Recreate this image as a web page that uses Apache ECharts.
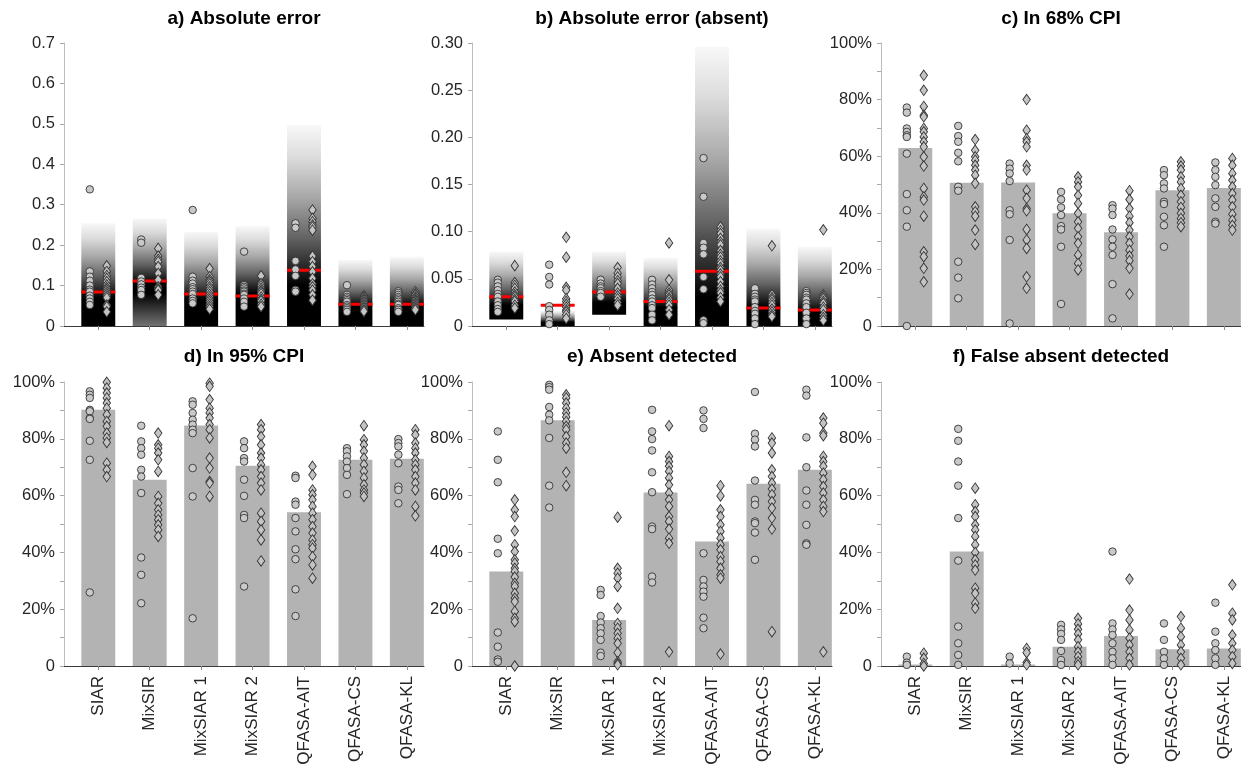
<!DOCTYPE html>
<html>
<head>
<meta charset="utf-8">
<script src="https://cdn.jsdelivr.net/npm/echarts@6/dist/echarts.min.js"></script>
<style>
  html, body { margin: 0; padding: 0; background: #fff; }
  #chart { width: 1241px; height: 771px; }
</style>
</head>
<body>
<div id="chart"></div>
<script>
// ---------------- DATA ----------------
const categories = ['SIAR', 'MixSIR', 'MixSIAR 1', 'MixSIAR 2', 'QFASA-AIT', 'QFASA-CS', 'QFASA-KL'];
const panelTitles = ['a) Absolute error', 'b) Absolute error (absent)', 'c) In 68% CPI',
                     'd) In 95% CPI', 'e) Absent detected', 'f) False absent detected'];

// panel a : absolute error
const aMedian = [0.084, 0.111, 0.079, 0.074, 0.138, 0.054, 0.054];
const aBandLo = [0, 0, 0, 0, 0, 0, 0];
const aBandHi = [0.254, 0.266, 0.233, 0.247, 0.497, 0.163, 0.171];
const aDarkLo = [0, 0.08, 0, 0, 0, 0, 0];
const aDarkHi = [0.07, 0.105, 0.065, 0.08, 0.10, 0.05, 0.05];
const aLowShade = [0, 115, 0, 0, 0, 0, 0];
const aCircles = [
  [0.338, 0.135, 0.122, 0.112, 0.100, 0.090, 0.085, 0.075, 0.068, 0.060, 0.052],
  [0.214, 0.206, 0.119, 0.110, 0.103, 0.095, 0.089, 0.077],
  [0.287, 0.122, 0.112, 0.105, 0.096, 0.091, 0.085, 0.079, 0.068, 0.062, 0.056],
  [0.184, 0.101, 0.097, 0.093, 0.088, 0.085, 0.080, 0.077, 0.068, 0.060, 0.048],
  [0.254, 0.243, 0.161, 0.140, 0.124, 0.089, 0.085],
  [0.101, 0.077, 0.072, 0.068, 0.064, 0.060, 0.052, 0.048, 0.044, 0.040, 0.035],
  [0.086, 0.082, 0.077, 0.072, 0.068, 0.064, 0.060, 0.055, 0.052, 0.044, 0.040, 0.035]
];
const aDiamonds = [
  [0.149, 0.135, 0.125, 0.118, 0.110, 0.102, 0.095, 0.090, 0.085, 0.080, 0.075, 0.070, 0.052, 0.048, 0.035],
  [0.192, 0.173, 0.165, 0.159, 0.147, 0.130, 0.114, 0.097, 0.092, 0.089, 0.077],
  [0.142, 0.122, 0.115, 0.110, 0.104, 0.097, 0.091, 0.085, 0.078, 0.072, 0.066, 0.060, 0.054, 0.048, 0.042],
  [0.124, 0.105, 0.099, 0.093, 0.088, 0.085, 0.080, 0.072, 0.066, 0.062, 0.054, 0.048],
  [0.287, 0.266, 0.258, 0.250, 0.245, 0.237, 0.173, 0.159, 0.147, 0.134, 0.118, 0.104, 0.097, 0.089, 0.077, 0.064],
  [0.075, 0.072, 0.068, 0.064, 0.060, 0.056, 0.052, 0.048, 0.044, 0.040, 0.036],
  [0.085, 0.080, 0.077, 0.072, 0.068, 0.064, 0.060, 0.056, 0.052, 0.048, 0.044, 0.040]
];

// panel b : absolute error (absent)
const bMedian = [0.031, 0.022, 0.036, 0.026, 0.058, 0.019, 0.017];
const bBandLo = [0.007, 0, 0.012, 0, 0, 0, 0];
const bBandHi = [0.079, 0.016, 0.079, 0.072, 0.296, 0.103, 0.084];
const bDarkLo = [0, 0, 0, 0, 0, 0, 0];
const bDarkHi = [0.022, 0.004, 0.025, 0.02, 0.03, 0.02, 0.015];
const bLowShade = [0, 0, 0, 0, 0, 0, 0];
const bCircles = [
  [0.049, 0.046, 0.042, 0.038, 0.034, 0.031, 0.026, 0.022, 0.018, 0.015],
  [0.065, 0.052, 0.044, 0.021, 0.017, 0.012, 0.006, 0.002],
  [0.049, 0.045, 0.042, 0.040, 0.037, 0.035, 0.031],
  [0.049, 0.044, 0.040, 0.036, 0.033, 0.029, 0.026, 0.022, 0.019, 0.012, 0.006],
  [0.178, 0.137, 0.088, 0.083, 0.076, 0.052, 0.039, 0.006, 0.003],
  [0.040, 0.034, 0.031, 0.028, 0.026, 0.020, 0.016, 0.013, 0.008, 0.002],
  [0.037, 0.035, 0.033, 0.030, 0.028, 0.024, 0.020, 0.014, 0.008, 0.002]
];
const bDiamonds = [
  [0.064, 0.046, 0.043, 0.040, 0.036, 0.033, 0.031, 0.028, 0.026, 0.022, 0.019],
  [0.094, 0.073, 0.041, 0.038, 0.029, 0.026, 0.023, 0.020, 0.017, 0.015, 0.012, 0.008],
  [0.062, 0.056, 0.052, 0.048, 0.045, 0.040, 0.035, 0.032, 0.029, 0.025, 0.022],
  [0.088, 0.049, 0.038, 0.035, 0.033, 0.030, 0.028, 0.025, 0.022, 0.017, 0.012],
  [0.105, 0.101, 0.098, 0.093, 0.089, 0.086, 0.080, 0.076, 0.073, 0.069, 0.066, 0.062, 0.059, 0.055, 0.052, 0.047, 0.042, 0.038, 0.035, 0.030, 0.026],
  [0.085, 0.033, 0.030, 0.028, 0.025, 0.022, 0.018, 0.015, 0.012, 0.010],
  [0.102, 0.033, 0.031, 0.029, 0.026, 0.024, 0.020, 0.017, 0.012, 0.009, 0.006]
];

// panel c : in 68% CPI (%)
const cBars = [62.9, 50.6, 50.7, 39.8, 33.1, 48.0, 48.8];
const cCircles = [
  [77.2, 75.4, 69.8, 68.6, 67.4, 66.8, 60.9, 46.6, 40.9, 35.1, 0],
  [70.7, 67.1, 65.1, 61.2, 58.2, 49.2, 47.8, 22.7, 17.1, 9.8],
  [57.4, 55.6, 53.9, 51.2, 40.9, 39.5, 30.4, 0.9],
  [47.4, 44.7, 41.9, 39.2, 35.3, 34.1, 28.0, 7.8],
  [42.7, 41.5, 39.2, 34.1, 30.6, 28.0, 25.1, 14.8, 2.7],
  [55.1, 53.3, 50.4, 48.6, 43.9, 43.1, 38.6, 35.6, 28.0],
  [57.8, 55.1, 52.7, 49.8, 45.1, 42.1, 36.8, 36.2]
];
const cDiamonds = [
  [88.6, 83.3, 77.6, 74.5, 73.9, 69.8, 68.6, 66.8, 65.1, 63.3, 59.8, 56.5, 48.6, 45.6, 44.5, 38.8, 26.2, 24.5, 20.4, 15.6],
  [65.9, 62.1, 59.8, 58.6, 56.8, 55.1, 53.3, 50.4, 42.1, 40.4, 38.8, 33.9, 28.8],
  [80.0, 69.2, 66.2, 65.1, 63.3, 56.8, 55.1, 48.0, 45.1, 41.5, 40.7, 34.1, 30.4, 27.4, 17.4, 13.3],
  [52.7, 50.9, 49.2, 46.2, 43.3, 39.8, 36.8, 34.5, 31.5, 29.2, 25.1, 22.1, 19.8],
  [47.8, 44.7, 41.5, 38.8, 36.5, 33.9, 31.5, 29.2, 26.8, 24.7, 23.1, 20.4, 11.3],
  [58.0, 56.5, 55.1, 52.7, 50.9, 48.6, 46.2, 43.9, 41.9, 39.8, 38.0, 36.5, 35.1],
  [59.2, 56.8, 53.9, 51.5, 49.2, 46.8, 44.5, 42.1, 39.5, 37.4, 35.6, 33.9]
];

// panel d : in 95% CPI (%)
const dBars = [90.2, 65.6, 84.7, 70.5, 54.1, 72.6, 73.0];
const dCircles = [
  [96.7, 95.5, 94.4, 90.2, 89.7, 87.3, 87.0, 79.3, 72.6, 25.9],
  [84.6, 79.1, 76.7, 74.4, 69.1, 66.7, 60.9, 38.2, 32.1, 22.1],
  [93.2, 92.0, 89.1, 86.7, 85.0, 83.2, 82.0, 69.7, 59.7, 16.8],
  [79.1, 76.7, 73.2, 72.0, 65.6, 59.9, 53.2, 52.1, 28.0],
  [67.0, 66.2, 57.9, 56.8, 52.1, 47.4, 41.1, 37.6, 27.0, 17.6],
  [76.7, 75.6, 73.8, 72.0, 69.7, 67.3, 60.5],
  [79.9, 78.5, 77.3, 74.4, 71.4, 63.2, 62.0, 57.3]
];
const dDiamonds = [
  [99.9, 97.9, 96.1, 94.4, 92.6, 90.8, 88.5, 86.1, 84.4, 82.0, 80.3, 78.7, 71.4, 69.1, 66.7],
  [82.0, 77.9, 76.7, 75.0, 72.6, 68.5, 59.7, 57.3, 55.0, 53.2, 51.5, 49.7, 47.9, 45.6],
  [99.6, 98.5, 93.8, 90.8, 89.1, 87.3, 85.0, 83.2, 80.3, 73.2, 69.7, 65.0, 64.4, 59.7],
  [85.0, 83.2, 80.8, 77.9, 75.0, 73.2, 70.9, 69.1, 66.7, 64.4, 62.0, 53.8, 50.9, 47.9, 44.4, 37.0],
  [70.3, 67.3, 62.0, 60.3, 58.5, 56.2, 53.8, 51.5, 49.1, 46.8, 44.4, 42.7, 41.5, 38.5, 35.6, 30.9],
  [84.6, 79.7, 77.9, 75.6, 73.2, 70.9, 68.5, 66.2, 63.8, 62.0, 60.9, 59.7],
  [83.2, 81.4, 78.5, 76.7, 75.0, 72.6, 70.9, 69.1, 66.7, 64.4, 62.0, 56.2, 52.9]
];

// panel e : absent detected (%)
const eBars = [33.3, 86.5, 16.2, 61.1, 43.8, 64.2, 69.1];
const eCircles = [
  [82.6, 72.6, 64.7, 44.8, 39.7, 11.8, 6.8, 2.3, 1.5],
  [99.0, 98.2, 97.3, 91.2, 88.5, 86.5, 80.3, 63.5, 55.8],
  [26.8, 25.0, 17.6, 15.3, 13.3, 11.5, 9.2, 4.7, 3.5],
  [90.2, 82.6, 79.9, 75.9, 68.2, 61.2, 49.1, 48.2, 31.5, 29.4],
  [90.0, 87.0, 83.8, 39.7, 30.3, 28.0, 26.2, 24.4, 17.0, 13.3],
  [96.5, 81.8, 79.7, 77.3, 65.3, 58.5, 56.8, 50.9, 50.3, 47.0, 37.4],
  [97.3, 95.2, 80.5, 70.0, 61.8, 56.8, 49.7, 43.2, 42.7]
];
const eDiamonds = [
  [58.5, 55.0, 52.6, 47.6, 42.7, 40.3, 37.4, 36.2, 34.4, 33.3, 31.3, 29.1, 28.0, 25.6, 23.9, 22.7, 19.2, 16.8, 15.6, 0],
  [95.5, 94.4, 92.6, 90.8, 89.1, 87.7, 86.1, 84.4, 83.2, 80.8, 78.5, 76.7, 68.2, 63.5],
  [52.4, 34.4, 32.7, 30.9, 28.0, 20.3, 15.0, 13.3, 11.5, 9.8, 8.0, 4.7, 1.5, 0.9, 0.4],
  [84.6, 73.8, 72.0, 70.3, 68.5, 66.2, 63.8, 60.9, 58.5, 56.2, 52.6, 50.9, 48.2, 45.0, 43.2, 5.0],
  [63.5, 59.9, 55.0, 52.6, 49.7, 47.4, 45.0, 42.7, 40.9, 38.5, 36.8, 34.4, 32.1, 30.9, 4.2],
  [80.3, 78.5, 75.0, 69.1, 66.7, 64.4, 62.3, 60.3, 57.9, 55.6, 52.1, 48.2, 12.1],
  [87.3, 85.5, 82.0, 81.1, 73.8, 72.0, 70.3, 67.9, 65.6, 63.2, 60.9, 58.5, 56.2, 54.4, 5.0]
];

// panel f : false absent detected (%)
const fBars = [0.5, 40.3, 0.5, 6.8, 10.6, 5.9, 6.2];
const fCircles = [
  [3.3, 1.2, 0.4],
  [83.5, 79.3, 72.0, 63.5, 52.1, 37.1, 13.9, 8.0, 3.9, 0.4],
  [3.3, 0.9],
  [14.5, 12.9, 11.3, 9.2, 5.3, 2.1, 0.4],
  [40.3, 15.0, 12.9, 10.9, 8.0, 5.0, 2.7, 0.4],
  [15.0, 9.2, 5.0, 2.7, 0.4],
  [22.3, 12.1, 8.0, 5.6, 2.7, 0.4]
];
const fDiamonds = [
  [4.5, 2.7, 0.9, 0],
  [62.6, 56.8, 54.4, 52.6, 49.7, 47.9, 45.6, 42.7, 40.0, 37.4, 35.6, 33.8, 27.4, 25.6, 22.1, 20.3],
  [6.2, 4.7, 1.2, 0.4],
  [16.8, 14.8, 12.9, 11.3, 9.2, 6.8, 5.0, 3.3, 1.5, 0.4],
  [30.6, 19.7, 16.2, 12.7, 9.8, 7.4, 5.0, 2.7, 0.4],
  [17.4, 13.3, 10.3, 7.4, 5.0, 2.7, 0.4],
  [28.6, 18.6, 16.2, 10.9, 8.0, 5.6, 3.3, 0.9]
];

// ---------------- LAYOUT / STYLE ----------------
const FONT = '"Liberation Sans", Arial, Helvetica, sans-serif';
const gridLefts = [64, 472, 881];
const gridTops = [43, 382];
const GRID_W = 360, GRID_H = 283;
const HALF_BAR = 0.33, OFFSET = 0.165;
const catPos = categories.map((c, i) => i + 1);

const chart = echarts.init(document.getElementById('chart'), null, { renderer: 'canvas' });

const grids = [], xAxes = [], yAxes = [], series = [], graphics = [];

for (let p = 0; p < 6; p++) {
  const row = Math.floor(p / 3), col = p % 3;
  const left = gridLefts[col], top = gridTops[row];
  grids.push({ left: left, top: top, width: GRID_W, height: row === 0 ? GRID_H : GRID_H + 1 });
  xAxes.push({
    gridIndex: p, type: 'value', min: 1 / 3, max: 22 / 3,
    axisLine: { show: true, onZero: false, lineStyle: { color: '#3a3a3a', width: 1 } },
    axisTick: { show: true, customValues: catPos, length: 4, inside: false, lineStyle: { color: '#8a8a8a' } },
    axisLabel: {
      show: row === 1, customValues: catPos, rotate: 90, margin: 10,
      fontSize: 17, fontFamily: FONT, color: '#262626',
      formatter: v => categories[Math.round(v) - 1] || ''
    },
    splitLine: { show: false }
  });
  let yCfg;
  if (p === 0) {
    yCfg = { max: 0.7, interval: 0.1, minor: false, fmt: v => v === 0 ? '0' : v.toFixed(1) };
  } else if (p === 1) {
    yCfg = { max: 0.3, interval: 0.05, minor: false, fmt: v => v === 0 ? '0' : v.toFixed(2) };
  } else {
    yCfg = { max: 100, interval: 20, minor: true, fmt: v => v === 0 ? '0' : Math.round(v) + '%' };
  }
  yAxes.push({
    gridIndex: p, type: 'value', min: 0, max: yCfg.max, interval: yCfg.interval,
    axisLine: { show: true, lineStyle: { color: '#bdbdbd', width: 1 } },
    axisTick: { show: true, length: 4, inside: false, lineStyle: { color: '#a8a8a8' } },
    minorTick: { show: yCfg.minor, splitNumber: 2, length: 4, lineStyle: { color: '#a8a8a8' } },
    axisLabel: { fontSize: 16.5, fontFamily: FONT, color: '#262626', margin: 9, formatter: yCfg.fmt },
    splitLine: { show: false }, minorSplitLine: { show: false }
  });
  graphics.push({
    type: 'text', x: left + GRID_W / 2, y: row === 0 ? 19 : 357, z: 100,
    style: {
      text: panelTitles[p], font: 'bold 19px ' + FONT, fill: '#000',
      align: 'center', verticalAlign: 'middle', textAlign: 'center', textVerticalAlign: 'middle'
    }
  });
}

// density (gradient) bands for panels a and b
function shade(g) { return 'rgb(' + g + ',' + g + ',' + g + ')'; }
function bandSeries(p, lo, hi, dLo, dHi, lowShade) {
  return {
    type: 'custom', xAxisIndex: p, yAxisIndex: p, z: 1, clip: false, silent: true,
    data: catPos.map((x, i) => [x, lo[i], hi[i], dLo[i], dHi[i], lowShade[i]]),
    renderItem: function (params, api) {
      const x = api.value(0), l = api.value(1), h = api.value(2), dl = api.value(3), dh = api.value(4), ls = api.value(5);
      const p1 = api.coord([x - HALF_BAR, h]);
      const p2 = api.coord([x + HALF_BAR, l]);
      const off = v => Math.min(1, Math.max(0, (h - v) / (h - l)));
      const oh = off(dh);
      const fade = [[0, 248], [0.2, 220], [0.45, 168], [0.7, 100], [0.88, 40], [1, 0]];
      const stops = fade.map(f => ({ offset: f[1] === 0 ? oh : f[0] * oh, color: shade(f[1]) }));
      stops.push({ offset: Math.max(oh, off(Math.max(dl, l))), color: shade(0) });
      stops.push({ offset: 1, color: shade(ls) });
      return {
        type: 'rect',
        shape: { x: p1[0], y: p1[1], width: p2[0] - p1[0], height: p2[1] - p1[1] },
        style: { fill: { type: 'linear', x: 0, y: 0, x2: 0, y2: 1, colorStops: stops } }
      };
    }
  };
}
function medianSeries(p, med) {
  return {
    type: 'custom', xAxisIndex: p, yAxisIndex: p, z: 3, clip: false, silent: true,
    data: catPos.map((x, i) => [x, med[i]]),
    renderItem: function (params, api) {
      const a = api.coord([api.value(0) - HALF_BAR, api.value(1)]);
      const b = api.coord([api.value(0) + HALF_BAR, api.value(1)]);
      return { type: 'line', shape: { x1: a[0], y1: a[1], x2: b[0], y2: b[1] }, style: { stroke: '#ff0000', lineWidth: 3 } };
    }
  };
}
function barSeries(p, vals) {
  return {
    type: 'custom', xAxisIndex: p, yAxisIndex: p, z: 1, clip: false, silent: true,
    data: catPos.map((x, i) => [x, vals[i]]),
    renderItem: function (params, api) {
      const a = api.coord([api.value(0) - HALF_BAR, api.value(1)]);
      const b = api.coord([api.value(0) + HALF_BAR, 0]);
      return { type: 'rect', shape: { x: a[0], y: a[1], width: b[0] - a[0], height: b[1] - a[1] },
               style: { fill: '#b3b3b3' } };
    }
  };
}
function pointSeries(p, groups, dx, symbol, size, fill) {
  const data = [];
  groups.forEach((g, i) => g.forEach(v => data.push([catPos[i] + dx, v])));
  return {
    type: 'scatter', xAxisIndex: p, yAxisIndex: p, z: 5, clip: false, silent: true,
    symbol: symbol, symbolSize: size, data: data,
    itemStyle: { color: fill, borderColor: '#333333', borderWidth: 0.9, opacity: 1 }
  };
}

series.push(bandSeries(0, aBandLo, aBandHi, aDarkLo, aDarkHi, aLowShade));
series.push(bandSeries(1, bBandLo, bBandHi, bDarkLo, bDarkHi, bLowShade));
[cBars, dBars, eBars, fBars].forEach((b, k) => series.push(barSeries(k + 2, b)));

const circleSets = [aCircles, bCircles, cCircles, dCircles, eCircles, fCircles];
const diamondSets = [aDiamonds, bDiamonds, cDiamonds, dDiamonds, eDiamonds, fDiamonds];
for (let p = 0; p < 6; p++) {
  series.push(pointSeries(p, circleSets[p], -OFFSET, 'circle', 7.5, '#c9c9c9'));
  series.push(pointSeries(p, diamondSets[p], OFFSET, 'diamond', [7.5, 10.5], '#c4c4c4'));
}
series.push(medianSeries(0, aMedian));
series.push(medianSeries(1, bMedian));

chart.setOption({
  animation: false,
  backgroundColor: '#ffffff',
  grid: grids, xAxis: xAxes, yAxis: yAxes,
  series: series, graphic: graphics
});
</script>
</body>
</html>
